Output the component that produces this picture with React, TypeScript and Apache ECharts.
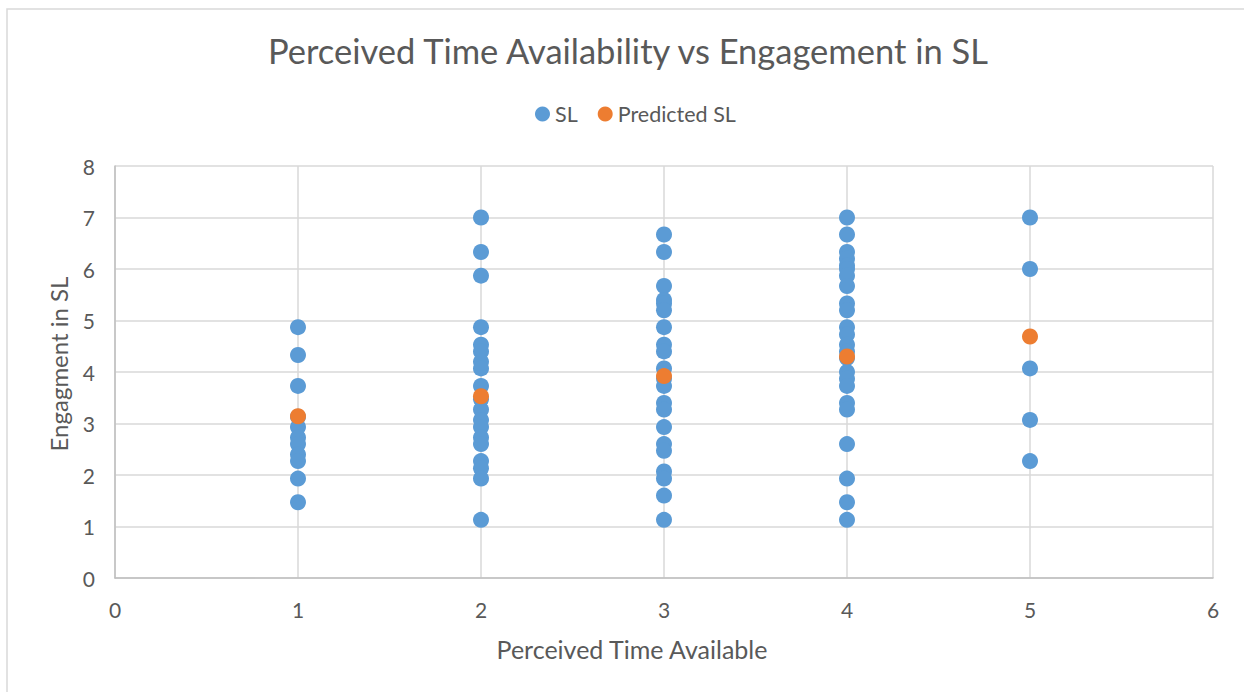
import React, { useEffect, useRef } from "react";
import * as echarts from "echarts";

const titleText = "Perceived Time Availability vs Engagement in SL";
const xAxisName = "Perceived Time Available";
const yAxisName = "Engagment in SL";

const slX1 = [4.87, 4.33, 3.73, 3.13, 2.93, 2.73, 2.6, 2.4, 2.27, 1.93, 1.47];
const slX2 = [7.0, 6.33, 5.87, 4.87, 4.53, 4.4, 4.2, 4.07, 3.73, 3.47, 3.27, 3.07, 2.93, 2.73, 2.6, 2.27, 2.13, 1.93, 1.13];
const slX3 = [6.67, 6.33, 5.67, 5.4, 5.33, 5.2, 4.87, 4.53, 4.4, 4.07, 3.87, 3.73, 3.4, 3.27, 2.93, 2.6, 2.47, 2.07, 1.93, 1.6, 1.13];
const slX4 = [7.0, 6.67, 6.33, 6.2, 6.07, 6.0, 5.87, 5.67, 5.33, 5.2, 4.87, 4.73, 4.53, 4.4, 4.27, 4.0, 3.87, 3.73, 3.4, 3.27, 2.6, 1.93, 1.47, 1.13];
const slX5 = [7.0, 6.0, 4.07, 3.07, 2.27];

const predX = [1, 2, 3, 4, 5];
const predY = [3.14, 3.53, 3.92, 4.3, 4.69];

const slGroups: [number, number[]][] = [
  [1, slX1],
  [2, slX2],
  [3, slX3],
  [4, slX4],
  [5, slX5],
];

export default function App() {
  const ref = useRef<HTMLDivElement>(null);
  useEffect(() => {
    document.body.style.margin = "0";
    const chart = echarts.init(ref.current!, null, { renderer: "svg" });
    const slData: number[][] = [];
    slGroups.forEach(([x, ys]) => ys.forEach((y) => slData.push([x, y])));
    const predData = predX.map((x, i) => [x, predY[i]]);
    const font = "Lato, 'Open Sans', sans-serif";
    chart.setOption({
      animation: false,
      backgroundColor: "#ffffff",
      textStyle: { fontFamily: font },
      title: {
        text: titleText,
        left: 263,
        top: 28,
        textStyle: { fontFamily: font, fontSize: 34.5, fontWeight: "normal", color: "#595959" },
      },
      legend: {
        top: 98,
        left: 530,
        itemWidth: 15,
        itemHeight: 15,
        itemGap: 20,
        icon: "circle",
        textStyle: { fontFamily: font, fontSize: 21.5, color: "#595959" },
        data: ["SL", "Predicted SL"],
      },
      grid: { left: 115, right: 31, top: 166, bottom: 114, containLabel: false },
      xAxis: {
        type: "value",
        min: 0,
        max: 6,
        interval: 1,
        name: xAxisName,
        nameLocation: "middle",
        nameGap: 58,
        nameTextStyle: { fontFamily: font, fontSize: 25, color: "#595959", padding: [0, 64, 0, 0] },
        axisLine: { show: true, lineStyle: { color: "#BFBFBF", width: 1.5 } },
        axisTick: { show: false },
        axisLabel: { fontFamily: font, fontSize: 21, color: "#595959", margin: 21 },
        splitLine: { show: true, lineStyle: { color: "#D9D9D9", width: 1.5 } },
      },
      yAxis: {
        type: "value",
        min: 0,
        max: 8,
        interval: 1,
        name: yAxisName,
        nameLocation: "middle",
        nameGap: 45,
        nameTextStyle: { fontFamily: font, fontSize: 24, color: "#595959", padding: [0, 0, 0, 16] },
        axisLine: { show: true, lineStyle: { color: "#BFBFBF", width: 1.5 } },
        axisTick: { show: false },
        axisLabel: { fontFamily: font, fontSize: 21, color: "#595959", margin: 20 },
        splitLine: { show: true, lineStyle: { color: "#D9D9D9", width: 1.5 } },
      },
      series: [
        {
          name: "SL",
          type: "scatter",
          data: slData,
          symbolSize: 16,
          itemStyle: { color: "#5B9BD5", opacity: 1 },
        },
        {
          name: "Predicted SL",
          type: "scatter",
          data: predData,
          symbolSize: 16,
          itemStyle: { color: "#ED7D31", opacity: 1 },
        },
      ],
      graphic: [
        {
          type: "rect",
          shape: { x: 7, y: 9, width: 1250, height: 700 },
          style: { fill: "none", stroke: "#D9D9D9", lineWidth: 1.5 },
          silent: true,
        },
      ],
    });
    return () => chart.dispose();
  }, []);
  return <div ref={ref} style={{ width: 1244, height: 692 }} />;
}
